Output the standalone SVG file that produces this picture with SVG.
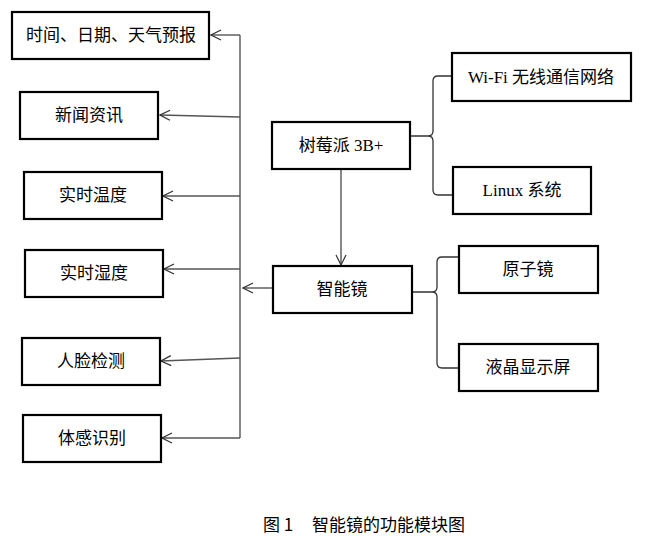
<svg xmlns="http://www.w3.org/2000/svg" width="648" height="545" viewBox="0 0 648 545">
<style>
.box{fill:#fff;stroke:#000;stroke-width:2.2}
.lbl{font-family:"Liberation Serif","Noto Sans CJK SC",serif;font-size:17px;fill:#000;text-anchor:middle}
.con{fill:none;stroke:#555;stroke-width:1.4}
.brace{fill:none;stroke:#333;stroke-width:1.3}
.cap{font-family:"Noto Sans CJK SC",sans-serif;font-size:17px;fill:#000}
</style>
<defs>
<marker id="arrd" viewBox="0 0 12 12" refX="11" refY="6" markerWidth="12" markerHeight="12" markerUnits="userSpaceOnUse" orient="auto">
<path d="M1,1 L11,6 L1,11" fill="none" stroke="#333" stroke-width="1.2"/>
</marker>
</defs>
<rect width="648" height="545" fill="#fff"/>
<g id="connectors">
<line class="con" x1="240" y1="35" x2="240" y2="438"/>
<line class="con" x1="240" y1="35" x2="211" y2="35" marker-end="url(#arrd)"/>
<line class="con" x1="240" y1="117" x2="160" y2="115" marker-end="url(#arrd)"/>
<line class="con" x1="240" y1="196" x2="163" y2="196" marker-end="url(#arrd)"/>
<line class="con" x1="240" y1="269" x2="164" y2="269" marker-end="url(#arrd)"/>
<line class="con" x1="240" y1="358" x2="161" y2="361" marker-end="url(#arrd)"/>
<line class="con" x1="240" y1="438" x2="162" y2="438" marker-end="url(#arrd)"/>
<line class="con" x1="273" y1="288" x2="243" y2="288" marker-end="url(#arrd)"/>
<line class="con" x1="341" y1="169" x2="341" y2="265" marker-end="url(#arrd)"/>
<path class="brace" d="M410,136 L428,136 Q433,136 433,131 L433,81 Q433,76 438,76 L452,76 M428,136 Q433,136 433,141 L433,190 Q433,195 438,195 L453,195"/>
<path class="brace" d="M412,292 L432,292 Q437,292 437,287 L437,262 Q437,257 442,257 L459,257 M432,292 Q437,292 437,297 L437,363 Q437,368 442,368 L459,368"/>
</g>
<g id="n1"><rect class="box" x="12" y="12" width="197" height="47"/><text class="lbl" x="111" y="41">时间、日期、天气预报</text></g>
<g id="n2"><rect class="box" x="20" y="92" width="138" height="47"/><text class="lbl" x="89" y="121">新闻资讯</text></g>
<g id="n3"><rect class="box" x="24" y="172" width="138" height="47"/><text class="lbl" x="93" y="201">实时温度</text></g>
<g id="n4"><rect class="box" x="25" y="250" width="138" height="47"/><text class="lbl" x="94" y="279">实时湿度</text></g>
<g id="n5"><rect class="box" x="22" y="338" width="138" height="47"/><text class="lbl" x="91" y="367">人脸检测</text></g>
<g id="n6"><rect class="box" x="23" y="415" width="138" height="47"/><text class="lbl" x="92" y="444">体感识别</text></g>
<g id="n7"><rect class="box" x="272" y="122" width="138" height="47"/><text class="lbl" x="341" y="151">树莓派 3B+</text></g>
<g id="n8"><rect class="box" x="452" y="53" width="179" height="48"/><text class="lbl" x="541" y="83">Wi-Fi 无线通信网络</text></g>
<g id="n9"><rect class="box" x="453" y="167" width="138" height="47"/><text class="lbl" x="522" y="196">Linux 系统</text></g>
<g id="n10"><rect class="box" x="273" y="266" width="139" height="47"/><text class="lbl" x="342" y="295">智能镜</text></g>
<g id="n11"><rect class="box" x="459" y="246" width="139" height="47"/><text class="lbl" x="528" y="275">原子镜</text></g>
<g id="n12"><rect class="box" x="459" y="344" width="139" height="47"/><text class="lbl" x="528" y="373">液晶显示屏</text></g>
<text class="cap" x="263" y="531">图 1<tspan x="312">智能镜的功能模块图</tspan></text>
</svg>
